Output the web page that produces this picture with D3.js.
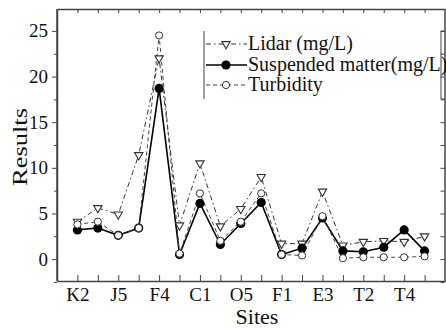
<!DOCTYPE html>
<html>
<head>
<meta charset="utf-8">
<script src="https://cdn.jsdelivr.net/npm/d3@7"></script>
<style>
  body { margin: 0; background: #fff; }
  svg { display: block; font-family: "Liberation Serif", "Times New Roman", serif; }
</style>
</head>
<body>
<svg id="chart" width="446" height="329"></svg>
<script>
// Sites along x (only every other site is labelled in the figure)
const siteLabels = ["K2", "", "J5", "", "F4", "", "C1", "", "O5", "", "F1", "", "E3", "", "T2", "", "T4", ""];
const lidar      = [4.1, 5.6, 4.9, 11.4, 22.0, 3.7, 10.5, 3.6, 5.5, 9.0, 1.7, 1.7, 7.4, 1.5, 1.9, 2.0, 1.9, 2.5];
const suspended  = [3.2, 3.4, 2.6, 3.4, 18.7, 0.5, 6.1, 1.6, 3.9, 6.2, 0.5, 1.2, 4.5, 0.9, 0.8, 1.3, 3.2, 0.9];
const turbidity  = [3.8, 4.1, 2.6, 3.4, 24.5, 0.6, 7.2, 2.0, 4.1, 7.2, 0.5, 0.4, 4.7, 0.1, 0.2, 0.2, 0.2, 0.3];
const yTicks = [0, 5, 10, 15, 20, 25];
const yMinorTicks = [-2.5, 2.5, 7.5, 12.5, 17.5, 22.5];

const width = 446, height = 329;
const margin = { left: 57, right: 1, top: 9, bottom: 48 };
const axisColor = "#444";

const svg = d3.select("#chart");
const idx = d3.range(siteLabels.length);

const x = d3.scalePoint().domain(idx).range([margin.left, width - margin.right]).padding(1);
const y = d3.scaleLinear().domain([-2.4, 27.4]).range([height - margin.bottom, margin.top]);

// Frame axes
const bottomAxis = svg.append("g")
    .attr("transform", `translate(0,${height - margin.bottom})`)
    .call(d3.axisBottom(x).tickSizeInner(-6).tickSizeOuter(0).tickPadding(7)
        .tickFormat((d) => siteLabels[d]));
const topAxis = svg.append("g")
    .attr("transform", `translate(0,${margin.top})`)
    .call(d3.axisTop(x).tickSizeInner(-4).tickSizeOuter(0).tickFormat(""));
const leftAxis = svg.append("g")
    .attr("transform", `translate(${margin.left},0)`)
    .call(d3.axisLeft(y).tickValues(yTicks).tickSizeInner(5).tickSizeOuter(0).tickPadding(4));
const leftMinor = svg.append("g")
    .attr("transform", `translate(${margin.left},0)`)
    .call(d3.axisLeft(y).tickValues(yMinorTicks).tickSizeInner(3).tickSizeOuter(0).tickFormat(""));
const rightAxis = svg.append("g")
    .attr("transform", `translate(${width - margin.right - 0.5},0)`)
    .call(d3.axisRight(y).tickValues(yTicks.concat(yMinorTicks)).tickSizeInner(-4).tickSizeOuter(0).tickFormat(""));

[bottomAxis, topAxis, leftAxis, leftMinor, rightAxis].forEach((g) => {
    g.selectAll("path.domain").attr("stroke", axisColor).attr("stroke-width", 1.5);
    g.selectAll(".tick line").attr("stroke", axisColor).attr("stroke-width", 1);
    g.selectAll(".tick text").attr("fill", "#111").style("font-size", "19px")
        .style("font-family", "Liberation Serif, serif");
});
leftAxis.select("path.domain").remove();
svg.append("line")
    .attr("x1", margin.left).attr("x2", margin.left)
    .attr("y1", margin.top).attr("y2", height - margin.bottom)
    .attr("stroke", axisColor).attr("stroke-width", 1.5);

// Axis titles
svg.append("text")
    .attr("transform", `translate(27,${(margin.top + height - margin.bottom) / 2 + 2}) rotate(-90)`)
    .attr("text-anchor", "middle")
    .attr("textLength", 78).attr("lengthAdjust", "spacingAndGlyphs")
    .style("font-size", "21px").attr("fill", "#111")
    .text("Results");
svg.append("text")
    .attr("x", 257).attr("y", 324)
    .attr("text-anchor", "middle")
    .style("font-size", "22px").attr("fill", "#111")
    .text("Sites");

// Series
const series = [
    { name: "Lidar (mg/L)", values: lidar, dash: "5,3,1.5,3", width: 1, color: "#333", marker: "tri" },
    { name: "Suspended matter(mg/L)", values: suspended, dash: null, width: 1.6, color: "#000", marker: "dot" },
    { name: "Turbidity", values: turbidity, dash: "4,3", width: 1, color: "#444", marker: "open" }
];

const line = d3.line().x((d, i) => x(i)).y((d) => y(d));
const triangle = d3.symbol().type(d3.symbolTriangle).size(30);

function drawMarker(g, type, cx, cy) {
    if (type === "tri") {
        g.append("path").attr("d", triangle())
            .attr("transform", `translate(${cx},${cy}) rotate(180)`)
            .attr("fill", "#fff").attr("stroke", "#333").attr("stroke-width", 1.1);
    } else if (type === "dot") {
        g.append("circle").attr("cx", cx).attr("cy", cy).attr("r", 4.6).attr("fill", "#000");
    } else {
        g.append("circle").attr("cx", cx).attr("cy", cy).attr("r", 3.6)
            .attr("fill", "#fff").attr("stroke", "#333").attr("stroke-width", 1);
    }
}

series.forEach((s) => {
    svg.append("path").datum(s.values)
        .attr("d", line).attr("fill", "none")
        .attr("stroke", s.color).attr("stroke-width", s.width)
        .attr("stroke-dasharray", s.dash);
});
series.forEach((s) => {
    const g = svg.append("g");
    s.values.forEach((v, i) => drawMarker(g, s.marker, x(i), y(v)));
});

// Legend
const legend = svg.append("g");
const lgLeft = 204, lgRight = 441, lgTop = 31, lgBottom = 99;
legend.append("line").attr("x1", lgLeft).attr("x2", lgLeft).attr("y1", lgTop).attr("y2", lgBottom)
    .attr("stroke", axisColor).attr("stroke-width", 1);
legend.append("path")
    .attr("d", `M${lgRight + 4},${lgTop}H${lgRight}V${lgBottom}H${lgRight + 4}`)
    .attr("fill", "none").attr("stroke", axisColor).attr("stroke-width", 1);

const rowY = [44, 65, 85];
series.forEach((s, i) => {
    const ry = rowY[i];
    legend.append("line").attr("x1", lgLeft + 2).attr("x2", 247).attr("y1", ry).attr("y2", ry)
        .attr("stroke", s.color).attr("stroke-width", s.width).attr("stroke-dasharray", s.dash);
    drawMarker(legend, s.marker, 226, ry);
    legend.append("text")
        .attr("x", 248).attr("y", ry + 6)
        .style("font-size", "20px").attr("fill", "#111")
        .text(s.name);
});
</script>
</body>
</html>
